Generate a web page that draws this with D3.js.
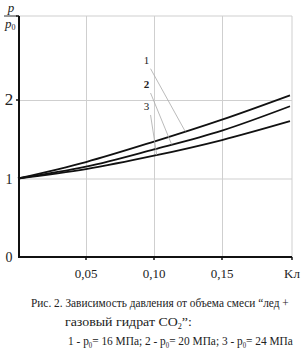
<!DOCTYPE html>
<html>
<head>
<meta charset="utf-8">
<script src="https://d3js.org/d3.v7.min.js"></script>
<style>
  body { margin: 0; background: #fff; }
  svg text { font-family: "Liberation Serif", "DejaVu Serif", serif; fill: #222; }
  .grid line { stroke: #cfcfcf; stroke-width: 1; }
  .grid .domain { stroke: none; }
</style>
</head>
<body>
<svg id="chart" width="306" height="353"></svg>
<script>
// data
const kValues = [0, 0.05, 0.10, 0.15, 0.20];
const curve1 = [1.00, 1.21, 1.47, 1.75, 2.06];   // p0 = 16 MPa
const curve2 = [1.00, 1.15, 1.37, 1.61, 1.92];   // p0 = 20 MPa
const curve3 = [1.00, 1.12, 1.29, 1.49, 1.73];   // p0 = 24 MPa
const seriesNames = ["1", "2", "3"];
const xTicks = [0.05, 0.10, 0.15];
const xTickLabels = ["0,05", "0,10", "0,15"];
const yTicks = [0, 1, 2];
// label positions (in data units) and where the leader line hits the curve
const labelPos = [[0.096, 2.45], [0.096, 2.14], [0.096, 1.86]];
const leaderEnd = [0.123, 0.113, 0.102];

const svg = d3.select("#chart");
const serif = "'Liberation Serif', 'DejaVu Serif', serif";
const x = d3.scaleLinear().domain([0, 0.2]).range([18, 290]);
const y = d3.scaleLinear().domain([0, 3]).range([257, 21.5]);
const x0 = 19, x1 = 292, yTop = 16, yBot = 257;

// gridlines
svg.append("g").attr("class", "grid")
  .attr("transform", `translate(0,${yBot})`)
  .call(d3.axisBottom(x).tickValues(xTicks).tickSize(-(yBot - yTop)).tickFormat(""));
svg.append("g").attr("class", "grid")
  .attr("transform", `translate(${x0},0)`)
  .call(d3.axisLeft(y).tickValues([1, 2]).tickSize(-(x1 - x0)).tickFormat(""));
svg.append("line").attr("x1", x0).attr("x2", x1).attr("y1", yTop).attr("y2", yTop)
  .attr("stroke", "#cfcfcf");
svg.append("line").attr("x1", x1).attr("x2", x1).attr("y1", yTop).attr("y2", yBot)
  .attr("stroke", "#cfcfcf");

// axes
svg.append("line").attr("x1", x0).attr("x2", x0).attr("y1", yTop).attr("y2", yBot + 1)
  .attr("stroke", "#111").attr("stroke-width", 2);
svg.append("line").attr("x1", x0 - 1).attr("x2", x1).attr("y1", yBot).attr("y2", yBot)
  .attr("stroke", "#111").attr("stroke-width", 2);
svg.selectAll(".xt").data(xTicks.concat([0.2])).join("line")
  .attr("x1", d => d === 0.2 ? x1 : x(d)).attr("x2", d => d === 0.2 ? x1 : x(d))
  .attr("y1", yBot).attr("y2", yBot + 3).attr("stroke", "#111").attr("stroke-width", 1.5);
svg.selectAll(".yt").data([2, 3]).join("line")
  .attr("x1", x0 - 3).attr("x2", x0)
  .attr("y1", d => d === 3 ? yTop : y(d)).attr("y2", d => d === 3 ? yTop : y(d))
  .attr("stroke", "#111").attr("stroke-width", 1.5);

// tick labels
svg.selectAll(".xl").data(xTicks).join("text")
  .attr("x", d => x(d)).attr("y", 278).attr("text-anchor", "middle")
  .attr("font-family", serif).attr("font-size", 13).text((d, i) => xTickLabels[i]);
svg.append("text").attr("x", 292).attr("y", 278).attr("text-anchor", "middle")
  .attr("font-family", serif).attr("font-size", 13).text("Kл");
svg.selectAll(".yl").data(yTicks).join("text")
  .attr("x", 9).attr("y", d => y(d) + 5).attr("text-anchor", "middle")
  .attr("font-family", serif).attr("font-size", d => d === 2 ? 17 : 14).text(d => d);

// y axis title p / p0
svg.append("text").attr("x", 11).attr("y", 12).attr("text-anchor", "middle")
  .attr("font-family", serif).attr("font-size", 13).attr("font-style", "italic").text("p");
svg.append("line").attr("x1", 4).attr("x2", 17).attr("y1", 16).attr("y2", 16)
  .attr("stroke", "#333").attr("stroke-width", 1);
const p0 = svg.append("text").attr("x", 5).attr("y", 28)
  .attr("font-family", serif).attr("font-size", 13).attr("font-style", "italic");
p0.append("tspan").text("p");
p0.append("tspan").attr("font-size", 8).attr("dy", 2).attr("font-style", "normal").text("0");

// curves
const allSeries = [curve1, curve2, curve3];
const line = d3.line().x(d => x(d[0])).y(d => y(d[1])).curve(d3.curveMonotoneX);
allSeries.forEach(s => {
  svg.append("path").datum(kValues.map((k, i) => [k, s[i]]))
    .attr("d", line).attr("fill", "none").attr("stroke", "#111").attr("stroke-width", 1.8);
});

// labels with leader lines
allSeries.forEach((s, i) => {
  const yAt = d3.scaleLinear().domain(kValues).range(s)(leaderEnd[i]);
  svg.append("line")
    .attr("x1", x(labelPos[i][0]) + 2).attr("y1", y(labelPos[i][1]) + 4)
    .attr("x2", x(leaderEnd[i])).attr("y2", y(yAt))
    .attr("stroke", "#aaa").attr("stroke-width", 0.8);
  svg.append("text").attr("x", x(labelPos[i][0]) - 2).attr("y", y(labelPos[i][1]) - 1)
    .attr("text-anchor", "middle").attr("font-family", serif).attr("font-size", 11)
    .attr("font-weight", i === 1 ? "bold" : "normal").attr("fill", "#444")
    .text(seriesNames[i]);
});

// caption, horizontally condensed to the width seen in the picture
function condensed(xPos, yPos, width, parts) {
  const g = svg.append("g");
  const t = g.append("text").attr("x", 0).attr("y", 0)
    .attr("font-family", serif).attr("font-size", 13.5);
  let prevSub = false;
  parts.forEach(([txt, sub]) => {
    const dy = sub ? 3 : (prevSub ? -3 : 0);
    t.append("tspan").attr("dy", dy).attr("font-size", sub ? 8 : null).text(txt);
    prevSub = !!sub;
  });
  const w = t.node().getComputedTextLength();
  g.attr("transform", `translate(${xPos},${yPos}) scale(${width / w},1)`);
}
condensed(31, 307, 258, [["Рис. 2. Зависимость давления от объема смеси “лед +"]]);
condensed(65, 326, 127, [["газовый гидрат CO"], ["2", true], ["”:"]]);
condensed(68, 345, 225, [["1 - p"], ["0", true], ["= 16 МПа; 2 - p"], ["0", true],
  ["= 20 МПа; 3 - p"], ["0", true], ["= 24 МПа"]]);
</script>
</body>
</html>
